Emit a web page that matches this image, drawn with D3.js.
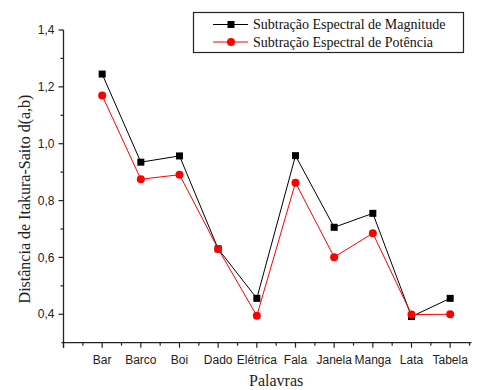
<!DOCTYPE html>
<html>
<head>
<meta charset="utf-8">
<script src="https://cdn.jsdelivr.net/npm/d3@7"></script>
<style>
  html, body { margin: 0; padding: 0; background: #fff; }
  svg { display: block; }
</style>
</head>
<body>
<svg id="chart" width="486" height="390"></svg>
<script>
// Palavras testadas e distância de Itakura-Saito para cada método
const categories = ["Bar", "Barco", "Boi", "Dado", "Elétrica", "Fala", "Janela", "Manga", "Lata", "Tabela"];
const magnitude = [1.245, 0.935, 0.957, 0.630, 0.456, 0.958, 0.706, 0.755, 0.392, 0.456];
const potencia  = [1.170, 0.875, 0.891, 0.630, 0.395, 0.863, 0.601, 0.685, 0.399, 0.400];
const yTicks = [0.4, 0.6, 0.8, 1.0, 1.2, 1.4];
const yMinorTicks = [0.5, 0.7, 0.9, 1.1, 1.3];
const seriesNames = ["Subtração Espectral de Magnitude", "Subtração Espectral de Potência"];

const svg = d3.select("#chart");

const x = d3.scaleLinear().domain([0, 10.5]).range([63.5, 469.5]);
const y = d3.scaleLinear().domain([0.3, 1.4]).range([342.7, 30]);
const fmt = v => d3.format(".1f")(v).replace(".", ",");

const axisColor = "#222";

// Eixo Y
const yAxis = svg.append("g").attr("transform", `translate(${x(0)},0)`);
yAxis.append("line").attr("x1", 0).attr("x2", 0).attr("y1", y(1.4)).attr("y2", y(0.3) + 5)
  .attr("stroke", axisColor).attr("stroke-width", 1.3);
yAxis.selectAll("line.major").data(yTicks).join("line").attr("class", "major")
  .attr("x1", -5).attr("x2", 0).attr("y1", d => y(d)).attr("y2", d => y(d))
  .attr("stroke", axisColor).attr("stroke-width", 1.2);
yAxis.selectAll("line.minor").data(yMinorTicks).join("line").attr("class", "minor")
  .attr("x1", -3).attr("x2", 0).attr("y1", d => y(d)).attr("y2", d => y(d))
  .attr("stroke", axisColor).attr("stroke-width", 1.2);
yAxis.selectAll("text").data(yTicks).join("text")
  .attr("x", -9).attr("y", d => y(d)).attr("dy", "0.35em")
  .attr("text-anchor", "end")
  .attr("font-family", "Liberation Sans, Arial, sans-serif").attr("font-size", 12)
  .attr("fill", "#222")
  .text(fmt);

// Eixo X
const xMajor = d3.range(0, 11);
const xMinor = d3.range(0.5, 11, 1);
const xAxis = svg.append("g").attr("transform", `translate(0,${y(0.3)})`);
xAxis.append("line").attr("x1", x(0) - 2).attr("x2", x(10.5) + 2).attr("y1", 0).attr("y2", 0)
  .attr("stroke", axisColor).attr("stroke-width", 1.3);
xAxis.selectAll("line.major").data(xMajor).join("line").attr("class", "major")
  .attr("x1", d => x(d)).attr("x2", d => x(d)).attr("y1", 0).attr("y2", 5)
  .attr("stroke", axisColor).attr("stroke-width", 1.2);
xAxis.selectAll("line.minor").data(xMinor).join("line").attr("class", "minor")
  .attr("x1", d => x(d)).attr("x2", d => x(d)).attr("y1", 0).attr("y2", 3)
  .attr("stroke", axisColor).attr("stroke-width", 1.2);
xAxis.selectAll("text").data(categories).join("text")
  .attr("x", (d, i) => x(i + 1)).attr("y", 21.5)
  .attr("text-anchor", "middle")
  .attr("font-family", "Liberation Sans, Arial, sans-serif").attr("font-size", 12)
  .attr("fill", "#222")
  .text(d => d);

// Títulos dos eixos
svg.append("text")
  .attr("x", x(5.5)).attr("y", 386)
  .attr("text-anchor", "middle")
  .attr("font-family", "Liberation Serif, Times New Roman, serif").attr("font-size", 16)
  .attr("fill", "#222")
  .text("Palavras");
svg.append("text")
  .attr("transform", `translate(30,${199}) rotate(-90)`)
  .attr("text-anchor", "middle")
  .attr("font-family", "Liberation Serif, Times New Roman, serif").attr("font-size", 16)
  .attr("fill", "#222")
  .text("Distância de Itakura-Saito d(a,b)");

// Séries
const line = d3.line().x((d, i) => x(i + 1)).y(d => y(d));

svg.append("path").datum(magnitude).attr("d", line)
  .attr("fill", "none").attr("stroke", "#000").attr("stroke-width", 1);
svg.append("path").datum(potencia).attr("d", line)
  .attr("fill", "none").attr("stroke", "#ff0000").attr("stroke-width", 1);

svg.selectAll("rect.mag").data(magnitude).join("rect").attr("class", "mag")
  .attr("x", (d, i) => x(i + 1) - 3.5).attr("y", d => y(d) - 3.5)
  .attr("width", 7).attr("height", 7).attr("fill", "#000");
svg.selectAll("circle.pot").data(potencia).join("circle").attr("class", "pot")
  .attr("cx", (d, i) => x(i + 1)).attr("cy", d => y(d)).attr("r", 4)
  .attr("fill", "#ff0000");

// Legenda
const legend = svg.append("g");
legend.append("rect").attr("x", 193.5).attr("y", 12.5).attr("width", 270).attr("height", 40)
  .attr("fill", "#fff").attr("stroke", "#222").attr("stroke-width", 1.2);
const rows = [
  { name: seriesNames[0], color: "#000", shape: "square", yy: 24.5 },
  { name: seriesNames[1], color: "#ff0000", shape: "circle", yy: 42 }
];
rows.forEach(r => {
  legend.append("line").attr("x1", 213).attr("x2", 248).attr("y1", r.yy).attr("y2", r.yy)
    .attr("stroke", r.color).attr("stroke-width", 1);
  if (r.shape === "square") {
    legend.append("rect").attr("x", 231 - 3.5).attr("y", r.yy - 3.5).attr("width", 7).attr("height", 7).attr("fill", r.color);
  } else {
    legend.append("circle").attr("cx", 231).attr("cy", r.yy).attr("r", 4).attr("fill", r.color);
  }
  legend.append("text").attr("x", 253).attr("y", r.yy).attr("dy", "0.35em")
    .attr("font-family", "Liberation Serif, Times New Roman, serif").attr("font-size", 14)
    .attr("fill", "#111")
    .text(r.name);
});
</script>
</body>
</html>
